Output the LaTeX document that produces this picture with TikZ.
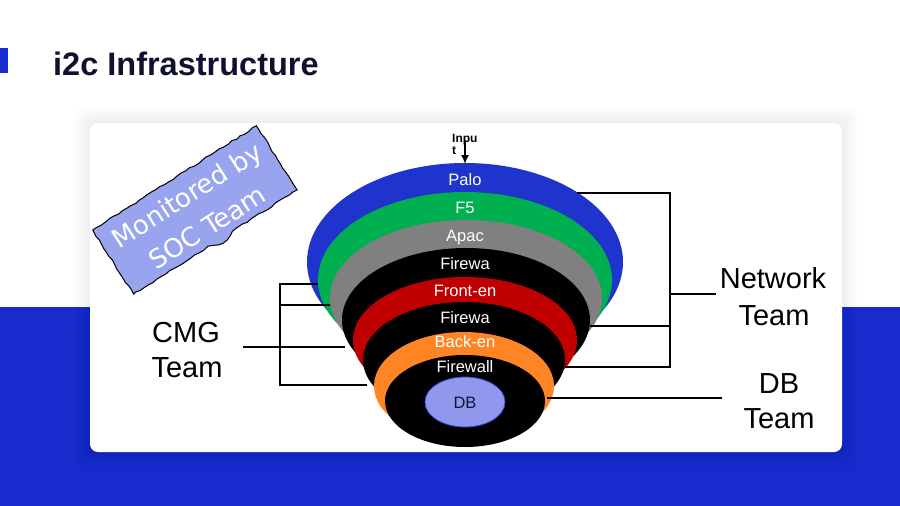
\documentclass[tikz,border=0pt]{standalone}
\usepackage{fontspec}
\setmainfont{Liberation Sans}
\newfontfamily\stampfont{DejaVu Sans}
\usetikzlibrary{decorations.pathmorphing,arrows.meta}
\definecolor{bandblue}{RGB}{24,44,205}
\definecolor{titlecol}{RGB}{16,16,48}
\definecolor{palo}{RGB}{30,52,204}
\definecolor{ffive}{RGB}{0,176,80}
\definecolor{apac}{RGB}{128,128,128}
\definecolor{front}{RGB}{192,0,0}
\definecolor{back}{RGB}{255,132,36}
\definecolor{dbfill}{RGB}{143,152,236}
\definecolor{dbline}{RGB}{58,74,208}
\definecolor{stampfill}{RGB}{152,164,238}
\definecolor{dbtext}{RGB}{20,20,50}
\tikzset{
  conn/.style={line width=1.9pt, black},
  lbl/.style={text=white, font=\fontsize{16.5}{18}\selectfont, anchor=base, inner sep=0pt},
  team/.style={font=\fontsize{29}{35}\selectfont, anchor=base, inner sep=0pt, text=black},
  inp/.style={font=\fontsize{12}{13}\selectfont\bfseries, anchor=base west, inner sep=0pt},
  stamptext/.style={text=white, font=\stampfont\fontsize{26}{38}\selectfont, inner sep=0pt, rotate=32.5, align=center}
}
\begin{document}
\begin{tikzpicture}[x=1pt,y=-1pt]
\useasboundingbox (0,0) rectangle (900,506);
\fill[white] (0,0) rectangle (900,506);
\fill[bandblue] (0,307) rectangle (900,506);
\fill[bandblue] (0,48) rectangle (8,73);
% panel shadow
\foreach \i in {1,...,8}
  \fill[black, opacity=0.007, rounded corners=10pt] (90-2*\i,123-2*\i) rectangle (842+2*\i,452+2*\i);
\fill[white, rounded corners=8pt] (90,123) rectangle (842,452);
% title
\node[anchor=base west, font=\fontsize{32.5}{40}\selectfont\bfseries, text=titlecol, inner sep=0pt] (title) at (53,75) {i2c Infrastructure};
% funnel
\fill[palo]  (465,262) ellipse [x radius=158pt, y radius=99pt];
\fill[ffive] (465,280) ellipse [x radius=147pt, y radius=88pt];
\fill[apac]  (466,298) ellipse [x radius=136pt, y radius=78pt];
\fill[black] (466,320) ellipse [x radius=124pt, y radius=72pt];
\fill[front] (465,340) ellipse [x radius=112pt, y radius=63pt];
\fill[black] (464,360) ellipse [x radius=101pt, y radius=58pt];
\fill[back]  (464,386) ellipse [x radius=90pt, y radius=54pt];
\fill[black] (465,401) ellipse [x radius=80pt, y radius=46pt];
\filldraw[fill=dbfill, draw=dbline, line width=0.8pt] (465,402) ellipse [x radius=40pt, y radius=25pt];
% labels
\node[lbl] (l1) at (465,185) {Palo};
\node[lbl] (l2) at (465,213) {F5};
\node[lbl] (l3) at (465,241) {Apac};
\node[lbl] (l4) at (465,269) {Firewa};
\node[lbl] (l5) at (465,296) {Front-en};
\node[lbl] (l6) at (465,323) {Firewa};
\node[lbl] (l7) at (465,347) {Back-en};
\node[lbl] (l8) at (465,372) {Firewall};
\node[lbl, text=dbtext] (l9) at (465,408) {DB};
% input
\node[inp] (inp1) at (452,142) {Inpu};
\node[inp] (inp2) at (452,154) {t};
\coordinate (inA) at (465,140);
\coordinate (inB) at (465,164);
\draw[line width=1.5pt, -{Latex[length=9pt,width=8pt]}] (inA) -- (inB);
% left bracket (CMG)
\coordinate (cA) at (318,284);
\coordinate (cB) at (330,305);
\coordinate (cC) at (345,347);
\coordinate (cD) at (367,385);
\coordinate (cV1) at (280,284);
\coordinate (cV2) at (280,385);
\coordinate (cS) at (243,347);
\draw[conn] (cA) -- (cV1) -- (cV2) -- (cD);
\draw[conn] (cB) -- (cB -| cV1);
\draw[conn] (cC) -- (cS);
% right bracket (Network)
\coordinate (nT) at (577,193);
\coordinate (nM) at (590,326);
\coordinate (nB) at (565,367);
\coordinate (nV1) at (670,193);
\coordinate (nV2) at (670,367);
\coordinate (nS) at (670,294);
\coordinate (nE) at (716,294);
\draw[conn] (nT) -- (nV1) -- (nV2) -- (nB);
\draw[conn] (nM) -- (nM -| nV1);
\draw[conn] (nS) -- (nE);
% DB line
\coordinate (dA) at (547,398);
\coordinate (dB) at (722,398);
\draw[conn] (dA) -- (dB);
% team labels
\node[team] (net1) at (773,288) {Network};
\node[team] (net2) at (774,325) {Team};
\node[team] (cmg1) at (186,342) {CMG};
\node[team] (cmg2) at (187,377) {Team};
\node[team] (dbt1) at (779,393) {DB};
\node[team] (dbt2) at (779,428) {Team};
% stamp
\pgfmathsetseed{7}
\begin{scope}[shift={(195,210)}, rotate=32.5]
  \filldraw[fill=stampfill, draw=black, line width=1pt, decorate,
    decoration={random steps, segment length=5pt, amplitude=0.8pt}]
    (-97,-38) -- (97,-38) -- (97,38) -- (20,38) .. controls (12,44) and (2,44) .. (-4,38) -- (-97,38) -- cycle;
  \node[stamptext] (stamp) at (1,2) {Monitored by\\SOC Team};
\end{scope}
\end{tikzpicture}
\end{document}
